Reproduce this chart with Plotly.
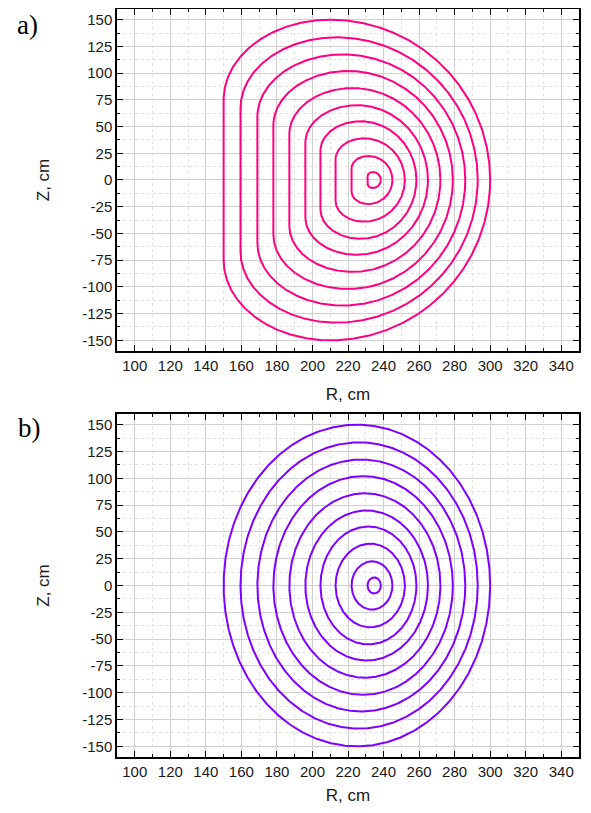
import numpy as np
import plotly.graph_objects as go
from plotly.subplots import make_subplots

# ---- data (cm) ----
# per flux surface, outermost first
R_left = [150, 159.5, 169, 178, 187, 196, 204.5, 213, 222, 231]
R_right = [300, 293, 286, 279, 272, 265, 258.5, 252, 245, 238.5]
Z_top = [150, 133.5, 117.5, 102, 86, 70, 55, 39, 22.5, 7.5]
# panel a (D-shaped surfaces): R at the top point, half-length of the flat inboard side
R_top_a = [210, 213.5, 217, 220, 222.5, 225, 227, 229, 231.5, 234]
Z_flat_a = [75, 67, 59, 51, 43, 35, 27.5, 19.5, 11, 3.5]

x_ticks = [100, 120, 140, 160, 180, 200, 220, 240, 260, 280, 300, 320, 340]
y_ticks = [-150, -125, -100, -75, -50, -25, 0, 25, 50, 75, 100, 125, 150]
x_tick_text = [str(v) for v in x_ticks]
y_tick_text = [str(v) for v in y_ticks]  # plain hyphen minus as in the reference

PINK = "rgb(255,0,128)"
VIOLET = "rgb(128,0,255)"

N = 181


def d_shape(rl, rr, rt, zt, zs):
    th = np.linspace(0, np.pi / 2, N)
    ph1 = np.linspace(np.pi / 2, np.pi, N)
    ph2 = np.linspace(np.pi, 1.5 * np.pi, N)
    th2 = np.linspace(1.5 * np.pi, 2 * np.pi, N)
    R = np.concatenate([
        rt + (rr - rt) * np.cos(th),
        rt + (rt - rl) * np.cos(ph1),
        [rl, rl],
        rt + (rt - rl) * np.cos(ph2),
        rt + (rr - rt) * np.cos(th2),
    ])
    Z = np.concatenate([
        zt * np.sin(th),
        zs + (zt - zs) * np.sin(ph1),
        [zs, -zs],
        -zs + (zt - zs) * np.sin(ph2),
        zt * np.sin(th2),
    ])
    return R, Z


def ellipse(rl, rr, zt):
    t = np.linspace(0, 2 * np.pi, 4 * N)
    rc = 0.5 * (rl + rr)
    a = 0.5 * (rr - rl)
    return rc + a * np.cos(t), zt * np.sin(t)


fig = make_subplots(rows=2, cols=1)

for i in range(len(R_left)):
    R, Z = d_shape(R_left[i], R_right[i], R_top_a[i], Z_top[i], Z_flat_a[i])
    fig.add_trace(go.Scatter(x=R, y=Z, mode="lines",
                             line=dict(color=PINK, width=2),
                             showlegend=False, hoverinfo="skip"), row=1, col=1)
    R, Z = ellipse(R_left[i], R_right[i], Z_top[i])
    fig.add_trace(go.Scatter(x=R, y=Z, mode="lines",
                             line=dict(color=VIOLET, width=2),
                             showlegend=False, hoverinfo="skip"), row=2, col=1)

SANS = "Liberation Sans, Arial, sans-serif"
SERIF = "Liberation Serif, Times New Roman, serif"
axfont = dict(family=SANS, size=15, color="#1a1a1a")
common = dict(
    showline=True, linecolor="black", linewidth=1.5, mirror="allticks",
    ticks="inside", ticklen=6, tickwidth=1.2, tickcolor="black",
    showgrid=True, gridcolor="#d0d0d0", gridwidth=1, zeroline=False,
    tickfont=axfont, automargin=False,
)
xcommon = dict(common, range=[90, 350], tickmode="array",
               tickvals=x_ticks, ticktext=x_tick_text,
               minor=dict(dtick=10, tick0=0, ticks="inside", ticklen=3.5,
                          tickcolor="black", showgrid=True,
                          gridcolor="#e2e2e2", griddash="dot", gridwidth=1),
               title=dict(text="R, cm", font=dict(family=SANS, size=17, color="#1a1a1a"), standoff=15))
ycommon = dict(common, range=[-160, 160], tickmode="array",
               tickvals=y_ticks, ticktext=y_tick_text,
               minor=dict(dtick=12.5, tick0=0, ticks="inside", ticklen=3.5,
                          tickcolor="black", showgrid=True,
                          gridcolor="#e2e2e2", griddash="dot", gridwidth=1),
               title=dict(text="Z, cm", font=dict(family=SANS, size=17, color="#1a1a1a"), standoff=28))

fig.update_xaxes(**xcommon)
fig.update_yaxes(**ycommon)
# the page body has an 8 px default margin, so the figure is sized/positioned to compensate
fig.update_layout(
    xaxis=dict(domain=[0, 1]), xaxis2=dict(domain=[0, 1]),
    yaxis=dict(domain=[0.5428, 1.0]), yaxis2=dict(domain=[0.0, 0.4586]),
    width=583, height=797,
    margin=dict(l=109, r=12, t=1, b=48),
    paper_bgcolor="white", plot_bgcolor="white",
    annotations=[
        dict(text="a)", xref="paper", yref="paper", x=-0.193, y=1.0013,
             xanchor="center", yanchor="top", showarrow=False,
             font=dict(family=SERIF, size=27, color="black")),
        dict(text="b)", xref="paper", yref="paper", x=-0.19, y=0.44,
             xanchor="center", yanchor="middle", showarrow=False,
             font=dict(family=SERIF, size=27, color="black")),
    ],
)

fig.write_html("out.html")
